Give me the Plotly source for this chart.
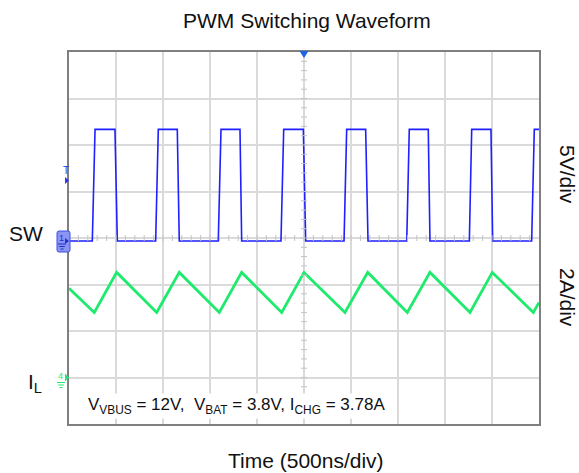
import plotly.graph_objects as go

# Switch-node voltage (ns, V): corner points of each edge
sw_t = [0, 248, 277, 489, 514, 922, 950, 1152, 1173, 1588, 1617, 1819, 1837,
        2255, 2284, 2493, 2518, 2926, 2954, 3156, 3181, 3593, 3620, 3822, 3840,
        4259, 4284, 4489, 4507, 4922, 4950, 5000]
sw_v = [0.0, 0.0, 12.0, 12.0, 0.0, 0.0, 12.0, 12.0, 0.0, 0.0, 12.0, 12.0, 0.0,
        0.0, 12.0, 12.0, 0.0, 0.0, 12.0, 12.0, 0.0, 0.0, 12.0, 12.0, 0.0,
        0.0, 12.0, 12.0, 0.0, 0.0, 12.0, 12.0]

# Inductor current (ns, A): valleys and peaks of the ripple
il_t = [0, 269, 507, 933, 1173, 1599, 1837, 2263, 2500, 2936, 3178, 3599,
        3840, 4266, 4503, 4940, 5000]
il_a = [3.84, 2.80, 4.52, 2.80, 4.52, 2.80, 4.52, 2.80, 4.52, 2.80, 4.52, 2.80,
        4.52, 2.80, 4.52, 2.80, 3.23]

title_text = "PWM Switching Waveform"
x_label = "Time (500ns/div)"
sw_scale = "5V/div"
il_scale = "2A/div"
cond_text = "V<sub>VBUS</sub> = 12V,  V<sub>BAT</sub> = 3.8V, I<sub>CHG</sub> = 3.78A"

# Screen geometry: 10 x 8 divisions
W, H = 579, 473
L, R, T, B = 69, 40, 52, 49
PW, PH = W - L - R, H - T - B
NDIV_X, NDIV_Y = 10, 8
T_DIV = 500          # ns/div
SW_DIV, IL_DIV = 5, 2  # V/div, A/div
SW_GND_DIV = -0.065   # channel 1 ground position (divisions from centre)
IL_GND_DIV = -3.0     # channel 4 ground position

sw_range = [(-NDIV_Y / 2 - SW_GND_DIV) * SW_DIV, (NDIV_Y / 2 - SW_GND_DIV) * SW_DIV]
il_range = [(-NDIV_Y / 2 - IL_GND_DIV) * IL_DIV, (NDIV_Y / 2 - IL_GND_DIV) * IL_DIV]

BLUE = "#1F1FFF"
GREEN = "#1EEB6E"
GRID = "#DADADA"
FRAME = "#7F7F7F"
FONT = "Liberation Sans, Arial, sans-serif"


def px(x, y):
    """Pixel position in the page -> paper coordinates."""
    return (x - L) / PW, (H - B - y) / PH


fig = go.Figure()
fig.add_trace(go.Scatter(x=il_t, y=il_a, yaxis="y", mode="lines",
                         line=dict(color=GREEN, width=2.8), hoverinfo="skip"))
fig.add_trace(go.Scatter(x=sw_t, y=sw_v, yaxis="y2", mode="lines",
                         line=dict(color=BLUE, width=1.6), hoverinfo="skip"))

shapes = []
# minor ticks on the centre cross
for k in range(1, NDIV_X * 5):
    shapes.append(dict(type="line", xref="x", yref="paper",
                       x0=k * T_DIV / 5, x1=k * T_DIV / 5,
                       y0=0.5 - 3 / PH, y1=0.5 + 3 / PH,
                       line=dict(color="#C4C4C4", width=1)))
for k in range(1, NDIV_Y * 5):
    shapes.append(dict(type="line", xref="paper", yref="paper",
                       x0=0.5 - 3 / PW, x1=0.5 + 3 / PW,
                       y0=k / (NDIV_Y * 5), y1=k / (NDIV_Y * 5),
                       line=dict(color="#C4C4C4", width=1)))

# trigger position marker (top)
shapes.append(dict(type="path", xref="paper", yref="paper",
                   xsizemode="pixel", ysizemode="pixel", xanchor=0.5, yanchor=1,
                   path="M -4.5 1 L 4.5 1 L 0 -6 Z",
                   fillcolor="#1E64E6", line=dict(width=0)))
# trigger level marker (left)
shapes.append(dict(type="path", xref="paper", yref="y2",
                   xsizemode="pixel", ysizemode="pixel", xanchor=0, yanchor=6.5,
                   path="M -4 3.5 L 0 0 L -4 -3.5 Z",
                   fillcolor="#2A3AF0", line=dict(width=0)))
# channel 1 ground marker
shapes.append(dict(type="path", xref="paper", yref="y2",
                   xsizemode="pixel", ysizemode="pixel", xanchor=0, yanchor=0,
                   path="M -10 10 L -1 10 Q 1 10 1 8 L 1 -9 Q 1 -11 -1 -11 "
                        "L -10 -11 Q -12 -11 -12 -9 L -12 8 Q -12 10 -10 10 Z",
                   fillcolor="#8A94F2", line=dict(color="#3F4FE6", width=1)))
shapes.append(dict(type="path", xref="paper", yref="y2",
                   xsizemode="pixel", ysizemode="pixel", xanchor=0, yanchor=0,
                   path="M -4 3 L 0 0 L -4 -3 Z",
                   fillcolor="#2030D0", line=dict(width=0)))
for dy, hw in [(-3, 4), (-5.5, 2.8), (-8, 1.5)]:
    shapes.append(dict(type="line", xref="paper", yref="y2",
                       xsizemode="pixel", ysizemode="pixel", xanchor=0, yanchor=0,
                       x0=-7 - hw, x1=-7 + hw, y0=dy, y1=dy,
                       line=dict(color="#2030D0", width=1)))
# channel 4 ground marker
shapes.append(dict(type="path", xref="paper", yref="y",
                   xsizemode="pixel", ysizemode="pixel", xanchor=0, yanchor=0,
                   path="M -4 4 L 0 0 L -4 -4 Z",
                   fillcolor=GREEN, line=dict(width=0)))
for dy, hw in [(-5, 4), (-7.5, 2.8), (-10, 1.5)]:
    shapes.append(dict(type="line", xref="paper", yref="y",
                       xsizemode="pixel", ysizemode="pixel", xanchor=0, yanchor=0,
                       x0=-8 - hw, x1=-8 + hw, y0=dy, y1=dy,
                       line=dict(color=GREEN, width=1)))

annotations = []


def text(x, y, s, size, color="#111111", angle=0, **kw):
    ax, ay = px(x, y)
    annotations.append(dict(x=ax, y=ay, xref="paper", yref="paper", text=s,
                            showarrow=False, textangle=angle,
                            xanchor="center", yanchor="middle",
                            font=dict(family=FONT, size=size, color=color), **kw))


text(307, 20, title_text, 21)
text(306, 461, x_label, 21)
text(26, 233, "SW", 21)
text(35, 383, "I<sub>L</sub>", 21)
text(568, 174, sw_scale, 21, angle=90)
text(568, 297, il_scale, 21, angle=90)
text(236, 406, cond_text, 17, bgcolor="white")
text(66, 170, "T", 10, color="#2A3AF0")
text(61.5, 238, "1", 9, color="#2030D0")
text(60, 376, "4", 9, color=GREEN)

axis_common = dict(showgrid=True, gridcolor=GRID, gridwidth=1.5, zeroline=False,
                   showticklabels=False, ticks="", showline=True,
                   linecolor=FRAME, linewidth=2, mirror=True, fixedrange=True)

fig.update_layout(
    width=W, height=H,
    margin=dict(l=L, r=R, t=T, b=B, pad=0),
    paper_bgcolor="white", plot_bgcolor="white",
    showlegend=False,
    xaxis=dict(range=[0, NDIV_X * T_DIV], dtick=T_DIV, tick0=0, **axis_common),
    yaxis=dict(range=il_range, dtick=IL_DIV, tick0=il_range[0], **axis_common),
    yaxis2=dict(range=sw_range, overlaying="y", visible=False, fixedrange=True),
    shapes=shapes,
    annotations=annotations,
)

fig.write_html("out.html")
